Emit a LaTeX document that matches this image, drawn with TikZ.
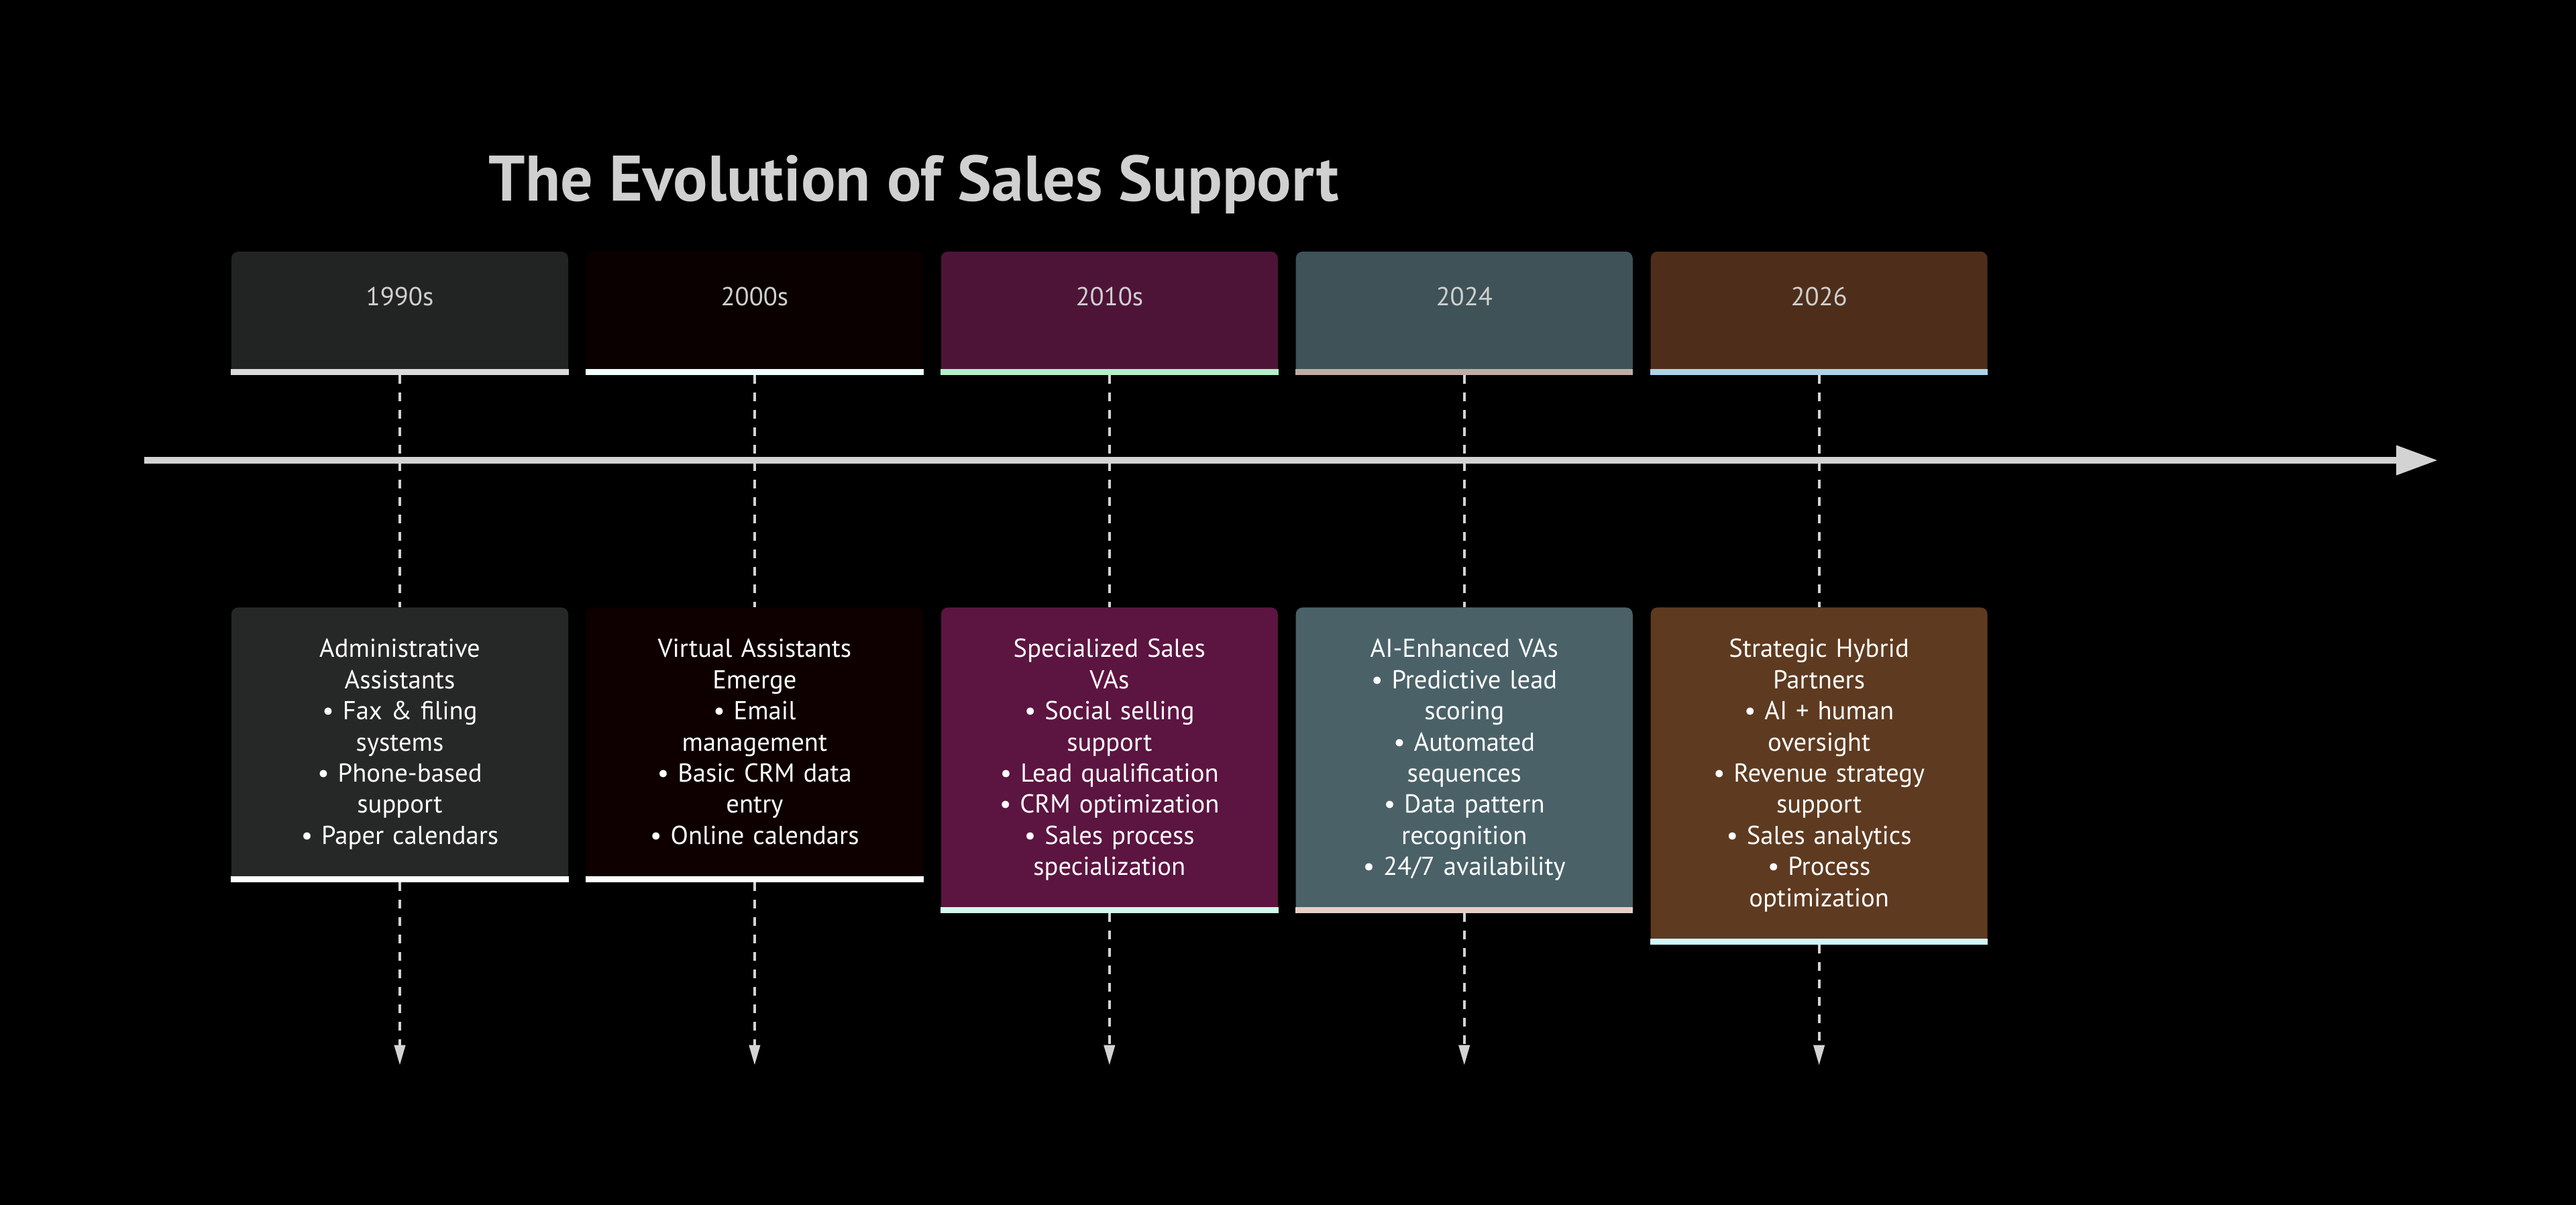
\documentclass[tikz,border=0pt]{standalone}
\usepackage{fontspec}
\setmainfont{PT Sans}
\usepackage{tikz}
\usetikzlibrary{arrows.meta,positioning}
\definecolor{titleGray}{HTML}{D0D0D0}
\definecolor{lineGray}{HTML}{D3D3D3}
\definecolor{periodFillA}{HTML}{222423}
\definecolor{periodFillB}{HTML}{0B0000}
\definecolor{periodFillC}{HTML}{4E1438}
\definecolor{periodFillD}{HTML}{3E5257}
\definecolor{periodFillE}{HTML}{4E2E1B}
\definecolor{eventFillA}{HTML}{262827}
\definecolor{eventFillB}{HTML}{0E0000}
\definecolor{eventFillC}{HTML}{5C1440}
\definecolor{eventFillD}{HTML}{4A6168}
\definecolor{eventFillE}{HTML}{5E3A20}
\definecolor{periodBarA}{HTML}{DADADA}
\definecolor{periodBarB}{HTML}{F0FFFF}
\definecolor{periodBarC}{HTML}{B2EEC8}
\definecolor{periodBarD}{HTML}{C0ACA6}
\definecolor{periodBarE}{HTML}{B0D2E6}
\definecolor{eventBarC}{HTML}{D0FAEC}
\definecolor{eventBarD}{HTML}{E6D0C6}
\definecolor{eventBarE}{HTML}{D0F6FA}
\newcommand{\bul}{•\ }

\begin{document}
\begin{tikzpicture}[x=1mm, y=-1mm, >={Triangle[length=3mm,width=1.6mm]}, node distance=2.55mm]
        \tikzset{
           titleText/.style={
                        font=\fontsize{27.3}{30}\selectfont\bfseries,
                        text=titleGray
                       },
           periodBox/.style={
                        rectangle,
                        rounded corners=1mm,
                        minimum width=50.2mm,
                        minimum height=18.3mm,
                        inner sep=0pt,
                        text height=3mm,
                        text depth=5.3mm,
                        font=\fontsize{11}{13.2}\selectfont,
                        text=titleGray
                       },
           eventBox/.style={
                        rectangle,
                        rounded corners=1mm,
                        text width=46.2mm,
                        align=center,
                        inner xsep=2mm,
                        inner ysep=4.2mm,
                        font=\fontsize{11}{13.2}\selectfont,
                        execute at begin node=\strut,
                        execute at end node=\strut,
                        text=white
                       },
           dashLine/.style={
                        draw=lineGray,
                        line width=0.4mm,
                        dash pattern=on 1.3mm off 1.3mm
                       },
           axisLine/.style={
                        draw=lineGray,
                        line width=1mm,
                        -{Triangle[length=6.2mm,width=4.2mm]}
                       },
                 };
    %--------------------
        \fill[black] (0,0) rectangle (384,179.6);
        \useasboundingbox (0,0) rectangle (384,179.6);

        \node[titleText]               (title) at (136.2,27.5)      {The Evolution of Sales Support};

        \node[periodBox, fill=periodFillA] (p1) at (59.6,46.65)     {1990s};
        \node[periodBox, fill=periodFillB] (p2) [right=of p1]       {2000s};
        \node[periodBox, fill=periodFillC] (p3) [right=of p2]       {2010s};
        \node[periodBox, fill=periodFillD] (p4) [right=of p3]       {2024};
        \node[periodBox, fill=periodFillE] (p5) [right=of p4]       {2026};

        \node[eventBox, fill=eventFillA]   (e1) [below=34.6mm of p1]
              {Administrative\\Assistants\\\bul Fax \& filing\\systems\\\bul Phone-based\\support\\\bul Paper calendars};
        \node[eventBox, fill=eventFillB]   (e2) [below=34.6mm of p2]
              {Virtual Assistants\\Emerge\\\bul Email\\management\\\bul Basic CRM data\\entry\\\bul Online calendars};
        \node[eventBox, fill=eventFillC]   (e3) [below=34.6mm of p3]
              {Specialized Sales\\VAs\\\bul Social selling\\support\\\bul Lead qualification\\\bul CRM optimization\\\bul Sales process\\specialization};
        \node[eventBox, fill=eventFillD]   (e4) [below=34.6mm of p4]
              {AI-Enhanced VAs\\\bul Predictive lead\\scoring\\\bul Automated\\sequences\\\bul Data pattern\\recognition\\\bul 24/7 availability};
        \node[eventBox, fill=eventFillE]   (e5) [below=34.6mm of p5]
              {Strategic Hybrid\\Partners\\\bul AI + human\\oversight\\\bul Revenue strategy\\support\\\bul Sales analytics\\\bul Process\\optimization};
    %--------------------
        % coloured bars under each box
        \fill[periodBarA] (p1.south west) rectangle ([yshift=0.9mm]p1.south east);
        \fill[periodBarB] (p2.south west) rectangle ([yshift=0.9mm]p2.south east);
        \fill[periodBarC] (p3.south west) rectangle ([yshift=0.9mm]p3.south east);
        \fill[periodBarD] (p4.south west) rectangle ([yshift=0.9mm]p4.south east);
        \fill[periodBarE] (p5.south west) rectangle ([yshift=0.9mm]p5.south east);

        \fill[white]     (e1.south west) rectangle ([yshift=0.9mm]e1.south east);
        \fill[white]     (e2.south west) rectangle ([yshift=0.9mm]e2.south east);
        \fill[eventBarC] (e3.south west) rectangle ([yshift=0.9mm]e3.south east);
        \fill[eventBarD] (e4.south west) rectangle ([yshift=0.9mm]e4.south east);
        \fill[eventBarE] (e5.south west) rectangle ([yshift=0.9mm]e5.south east);

        \coordinate (end1) at ([yshift=-102.9mm]p1.south);
        \coordinate (end2) at ([yshift=-102.9mm]p2.south);
        \coordinate (end3) at ([yshift=-102.9mm]p3.south);
        \coordinate (end4) at ([yshift=-102.9mm]p4.south);
        \coordinate (end5) at ([yshift=-102.9mm]p5.south);

        \coordinate (axisStart) at (21.5,68.6);
        \coordinate (axisEnd)   at (363.4,68.6);
    %--------------------
        \path (p1) edge[dashLine]     (e1)
              (p2) edge[dashLine]     (e2)
              (p3) edge[dashLine]     (e3)
              (p4) edge[dashLine]     (e4)
              (p5) edge[dashLine]     (e5)

              (e1) edge[dashLine, ->] (end1)
              (e2) edge[dashLine, ->] (end2)
              (e3) edge[dashLine, ->] (end3)
              (e4) edge[dashLine, ->] (end4)
              (e5) edge[dashLine, ->] (end5);

        \draw[axisLine] (axisStart) -- (axisEnd);
    \end{tikzpicture}
\end{document}
